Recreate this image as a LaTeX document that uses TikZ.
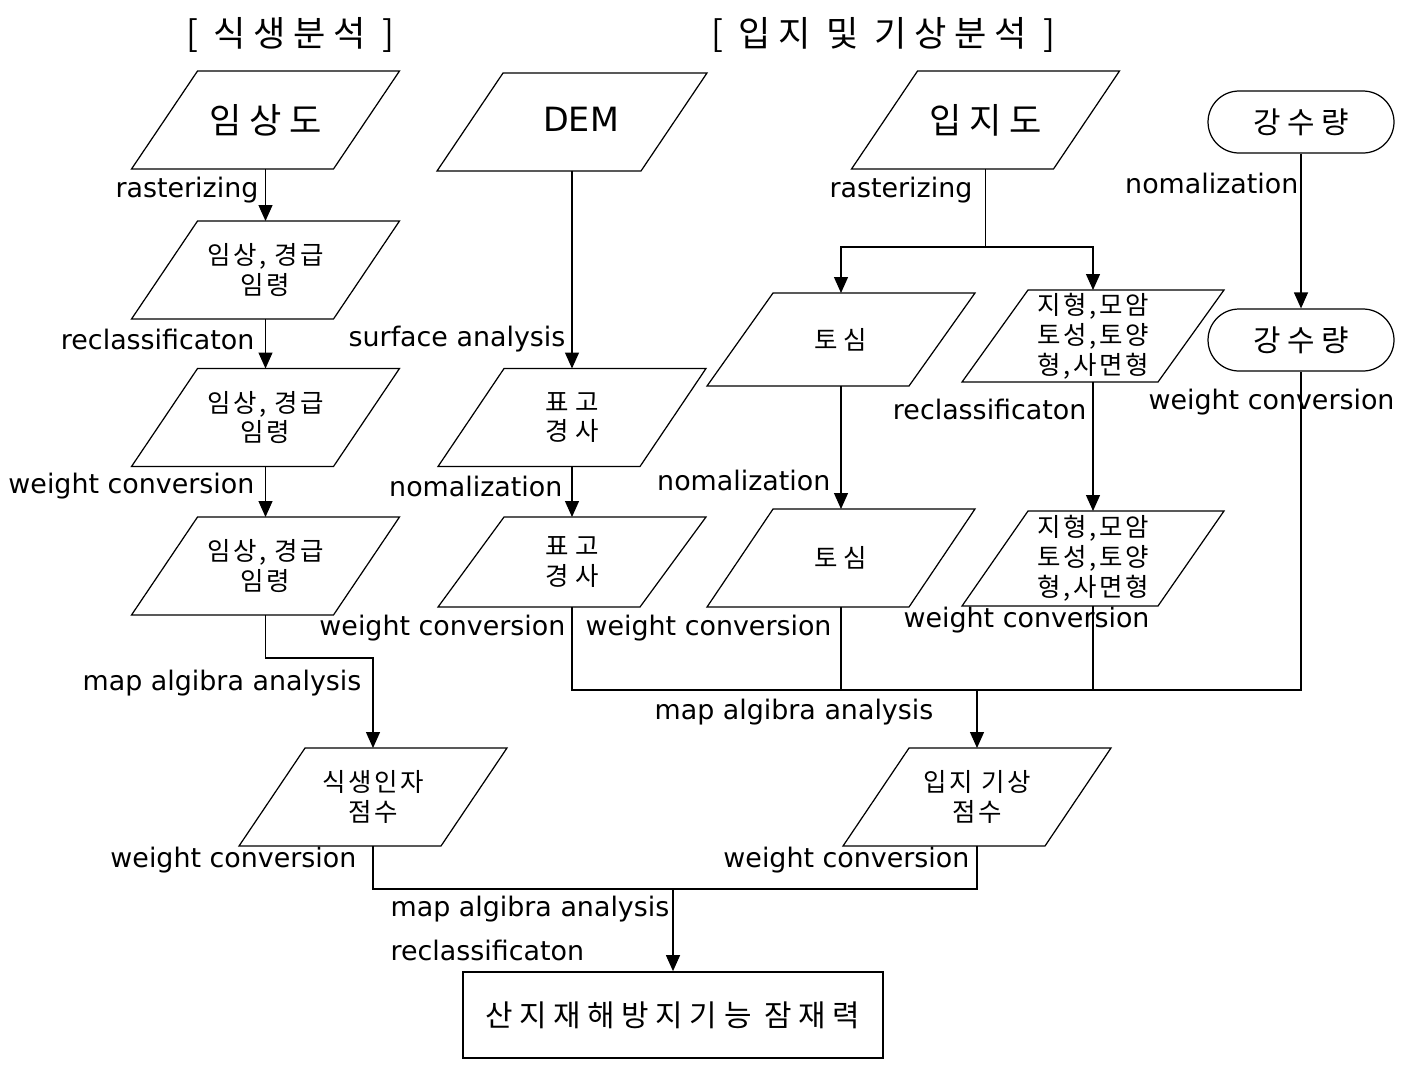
\documentclass[tikz,border=0pt]{standalone}
\usepackage{fontspec}
\setmainfont{DejaVu Sans}
\newfontfamily\kr{Noto Sans CJK KR}[LetterSpace=22]
\newfontfamily\krs{Noto Sans CJK KR}[LetterSpace=10]
\usetikzlibrary{arrows.meta}

\tikzset{
  para/.style={rectangle, minimum width=4.04cm, minimum height=1.96cm,
    inner sep=0pt, outer sep=0pt, align=center, font=\krs\fontsize{14.5}{17}\selectfont},
  bigpara/.style={para, font=\kr\fontsize{20}{22}\selectfont},
  stadium/.style={draw, rectangle, rounded corners=0.62cm, minimum width=3.72cm,
    minimum height=1.24cm, inner sep=0pt, font=\kr\fontsize{17}{18}\selectfont},
  finalbox/.style={draw, rectangle, line width=1pt, minimum width=8.4cm,
    minimum height=1.72cm, inner sep=0pt, font=\kr\fontsize{17}{18}\selectfont},
  head/.style={inner sep=0pt, font=\kr\fontsize{20}{22}\selectfont},
  lbl/.style={inner sep=0pt, font=\fontsize{15.3}{17}\selectfont},
  arr/.style={-{Triangle[width=0.28cm,length=0.32cm]}}
}

\begin{document}
\begin{tikzpicture}[x=0.02cm,y=-0.02cm,line width=0.7pt]
\useasboundingbox (0,0) rectangle (1406,1069);

% headings
\node[head] (headveg) at (290,35) {[\hspace{9pt}식생분석\hspace{9pt}]};
\node[head] (headsite) at (883,35) {[\hspace{9pt}입지 및 기상분석\hspace{9pt}]};

% vegetation column
\node[bigpara] (imsang) at (265.5,120) {임상도};
\node[para] (veg1) at (265.5,270) {임상, 경급\\임령};
\node[para] (veg2) at (265.5,417.5) {임상, 경급\\임령};
\node[para] (veg3) at (265.5,566) {임상, 경급\\임령};
\node[para] (vegscore) at (373,797) {식생인자\\점수};

\foreach \a/\b in {imsang/veg1,veg1/veg2,veg2/veg3}
  \draw[arr] (\a) -- (\b);
\coordinate (vegbend) at (265.5,658);
\draw[arr] (veg3) -- (vegbend) -| (vegscore);

\node[lbl,anchor=east] (lraster1) at (259,190) {rasterizing};
\node[lbl,anchor=east] (lrecl1) at (255,339) {reclassificaton};
\node[lbl,anchor=east] (lweight1) at (255,486) {weight conversion};
\node[lbl,anchor=east] (lalg1) at (362,683) {map algibra analysis};
\node[lbl,anchor=east] (lweight2) at (357,860) {weight conversion};

% DEM column
\node[bigpara,minimum width=4.08cm,font=\fontsize{19}{22}\selectfont] (dem) at (572,122)
  {\hspace*{0.36cm}\raisebox{0.1cm}{DEM}};
\node[para] (slope1) at (572,417.5) {표\hspace{4pt}고\\경\hspace{4pt}사};
\node[para,minimum height=1.8cm] (slope2) at (572,562) {표\hspace{4pt}고\\경\hspace{4pt}사};
\draw[arr] (dem) -- (slope1);
\draw[arr] (slope1) -- (slope2);

\node[lbl,anchor=east] (lsurf) at (566,339) {surface analysis};
\node[lbl,anchor=east] (lnorm1) at (563,486) {nomalization};
\node[lbl,anchor=east] (lweight3) at (566,628) {weight conversion};
\node[lbl,anchor=west] (lweight4) at (585,628) {weight conversion};

% site column
\node[bigpara] (ipji) at (985.5,120) {입지도};
\node[para,minimum height=1.86cm] (soil1) at (841,339.5) {토\hspace{3pt}심};
\node[para,minimum height=1.84cm,minimum width=3.92cm] (land1) at (1093,336) {지형,모암\\토성,토양\\형,사면형};
\node[para] (soil2) at (841,558) {토\hspace{3pt}심};
\node[para,minimum height=1.9cm,minimum width=3.92cm] (land2) at (1093,558.5) {지형,모암\\토성,토양\\형,사면형};
\coordinate (split) at (985.5,247);
\draw (ipji) -- (split);
\draw[arr] (split) -| (soil1);
\draw[arr] (split) -| (land1);
\draw[arr] (soil1) -- (soil2);
\draw[arr] (land1) -- (land2);

\node[lbl,anchor=east] (lraster2) at (973,190) {rasterizing};
\node[lbl,anchor=east] (lnorm2) at (831,480) {nomalization};
\node[lbl,anchor=east] (lrecl2) at (1087,409) {reclassificaton};
\node[lbl,anchor=west] (lweight5) at (903,620) {weight conversion};

% rainfall
\node[stadium] (rain1) at (1301,122) {강수량};
\node[stadium] (rain2) at (1301,340) {강수량};
\draw[arr] (rain1) -- (rain2);

\node[lbl,anchor=east] (lnorm3) at (1299,183) {nomalization};
\node[lbl,anchor=west] (lweight6) at (1148,402) {weight conversion};

% site and weather score
\coordinate (sitemerge) at (977,690);
\node[para] (sitescore) at (977,797) {입지 기상\\점수};
\draw (slope2) |- (rain2 |- sitemerge) -- (rain2);
\draw (soil2) -- (soil2 |- sitemerge);
\draw (land2) -- (land2 |- sitemerge);
\draw[arr] (sitemerge) -- (sitescore);

\node[lbl,anchor=west] (lalg2) at (654,712) {map algibra analysis};
\node[lbl,anchor=east] (lweight7) at (970,860) {weight conversion};

% result
\coordinate (finalmerge) at (673,889);
\node[finalbox] (result) at (673,1015) {산지재해방지기능 잠재력};
\draw (vegscore) |- (finalmerge) -| (sitescore);
\draw[arr] (finalmerge) -- (result);

\node[lbl,anchor=west] (lalg3) at (390,909) {map algibra analysis};
\node[lbl,anchor=west] (lrecl3) at (390,950) {reclassificaton};

% parallelogram outlines
\foreach \n in {imsang,veg1,veg2,veg3,vegscore,dem,slope1,slope2,ipji,soil1,land1,soil2,land2,sitescore}
  \draw ([xshift=-0.66cm]\n.south west) -- ([xshift=-0.66cm]\n.south east)
    -- ([xshift=0.66cm]\n.north east) -- ([xshift=0.66cm]\n.north west) -- cycle;
\end{tikzpicture}
\end{document}
